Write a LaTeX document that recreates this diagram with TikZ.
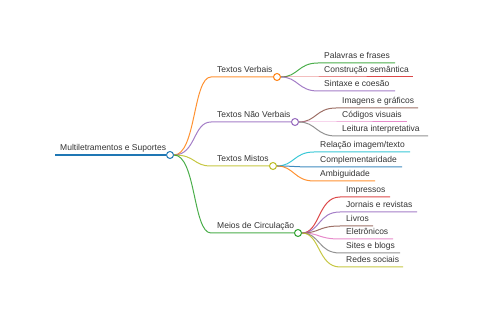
\documentclass[tikz,border=0pt]{standalone}
\usepackage{fontspec}
\setmainfont{Liberation Sans}
\definecolor{cblue}{HTML}{1F77B4}
\definecolor{corange}{HTML}{FF7F0E}
\definecolor{cgreen}{HTML}{2CA02C}
\definecolor{cred}{HTML}{D62728}
\definecolor{cpurple}{HTML}{9467BD}
\definecolor{cbrown}{HTML}{8C564B}
\definecolor{cpink}{HTML}{E377C2}
\definecolor{cgray}{HTML}{7F7F7F}
\definecolor{colive}{HTML}{BCBD22}
\definecolor{ccyan}{HTML}{17BECF}
\definecolor{ctext}{HTML}{333333}
\pgfdeclarelayer{background}
\pgfsetlayers{background,main}
\begin{document}
\begin{tikzpicture}[x=1pt,y=-1pt,
  font=\fontsize{8.5}{10}\selectfont,
  lbl/.style={anchor=base west, inner sep=0pt, text=ctext},
  dot/.style={circle, draw, fill=white, line width=1pt, minimum size=7pt, inner sep=0pt},
  edge/.style={line width=1pt, opacity=0.85}]
\useasboundingbox (0,0) rectangle (480,320);

% root
\node[lbl] (root) at (60,151) {Multiletramentos e Suportes};
\coordinate (rs) at (55,155);
\node[dot,draw=cblue] (rdot) at (170,155) {};

% level 1
\coordinate (tvs) at (211,77);
\node[lbl] (tv) at (217,73) {Textos Verbais};
\node[dot,draw=corange] (tvd) at (277,77) {};

\coordinate (tnvs) at (211,122);
\node[lbl] (tnv) at (217,118) {Textos Não Verbais};
\node[dot,draw=cpurple] (tnvd) at (295,122) {};

\coordinate (tms) at (211,166);
\node[lbl] (tm) at (217,162) {Textos Mistos};
\node[dot,draw=colive] (tmd) at (273,166) {};

\coordinate (mcs) at (211,233);
\node[lbl] (mc) at (217,229) {Meios de Circulação};
\node[dot,draw=cgreen] (mcd) at (298,233) {};

% leaves of Textos Verbais
\coordinate (pfs) at (318,63); \coordinate (pfe) at (395,63);
\node[lbl] (pf) at (324,59) {Palavras e frases};
\coordinate (css) at (318,77); \coordinate (cse) at (413,77);
\node[lbl] (cs) at (324,73) {Construção semântica};
\coordinate (scs) at (318,91); \coordinate (sce) at (395,91);
\node[lbl] (sc) at (324,87) {Sintaxe e coesão};

% leaves of Textos Nao Verbais
\coordinate (igs) at (336,108); \coordinate (ige) at (418,108);
\node[lbl] (ig) at (342,104) {Imagens e gráficos};
\coordinate (cvs) at (336,122); \coordinate (cve) at (407,122);
\node[lbl] (cv) at (342,118) {Códigos visuais};
\coordinate (lis) at (336,136); \coordinate (lie) at (428,136);
\node[lbl] (li) at (342,132) {Leitura interpretativa};

% leaves of Textos Mistos
\coordinate (ris) at (314,152); \coordinate (rie) at (410,152);
\node[lbl] (ri) at (320,148) {Relação imagem/texto};
\coordinate (cps) at (314,167); \coordinate (cpe) at (402,167);
\node[lbl] (cp) at (320,163) {Complementaridade};
\coordinate (ams) at (314,181); \coordinate (ame) at (375,181);
\node[lbl] (am) at (320,177) {Ambiguidade};

% leaves of Meios de Circulacao
\coordinate (ims) at (340,197); \coordinate (ime) at (390,197);
\node[lbl] (im) at (346,193) {Impressos};
\coordinate (jrs) at (340,212); \coordinate (jre) at (417,212);
\node[lbl] (jr) at (346,208) {Jornais e revistas};
\coordinate (lvs) at (340,226); \coordinate (lve) at (373,226);
\node[lbl] (lv) at (346,222) {Livros};
\coordinate (els) at (340,239); \coordinate (ele) at (393,239);
\node[lbl] (el) at (346,235) {Eletrônicos};
\coordinate (sbs) at (340,253); \coordinate (sbe) at (400,253);
\node[lbl] (sb) at (346,249) {Sites e blogs};
\coordinate (rss) at (340,267); \coordinate (rse) at (403,267);
\node[lbl] (rs2) at (346,263) {Redes sociais};

\begin{pgfonlayer}{background}
\draw[cblue, line width=1.3pt] (rs) -- (rdot);
\draw[edge,corange] (rdot) .. controls (196,155) and (193,77) .. (tvs) -- (tvd);
\draw[edge,cpurple] (rdot) .. controls (196,155) and (193,122) .. (tnvs) -- (tnvd);
\draw[edge,colive] (rdot) .. controls (196,155) and (193,166) .. (tms) -- (tmd);
\draw[edge,cgreen] (rdot) .. controls (196,155) and (193,233) .. (mcs) -- (mcd);

\draw[edge,cgreen] (tvd) .. controls (298,77) and (298,63) .. (pfs) -- (pfe);
\draw[edge,cred] (tvd) -- (css) -- (cse);
\draw[edge,cpurple] (tvd) .. controls (298,77) and (298,91) .. (scs) -- (sce);

\draw[edge,cbrown] (tnvd) .. controls (316,122) and (316,108) .. (igs) -- (ige);
\draw[edge,cpink] (tnvd) -- (cvs) -- (cve);
\draw[edge,cgray] (tnvd) .. controls (316,122) and (316,136) .. (lis) -- (lie);

\draw[edge,ccyan] (tmd) .. controls (294,166) and (294,152) .. (ris) -- (rie);
\draw[edge,cblue] (tmd) .. controls (294,166) and (294,167) .. (cps) -- (cpe);
\draw[edge,corange] (tmd) .. controls (294,166) and (294,181) .. (ams) -- (ame);

\draw[edge,cred] (mcd) .. controls (320,233) and (318,197) .. (ims) -- (ime);
\draw[edge,cpurple] (mcd) .. controls (320,233) and (318,212) .. (jrs) -- (jre);
\draw[edge,cbrown] (mcd) .. controls (320,233) and (318,226) .. (lvs) -- (lve);
\draw[edge,cpink] (mcd) .. controls (320,233) and (318,239) .. (els) -- (ele);
\draw[edge,cgray] (mcd) .. controls (320,233) and (318,253) .. (sbs) -- (sbe);
\draw[edge,colive] (mcd) .. controls (320,233) and (318,267) .. (rss) -- (rse);
\end{pgfonlayer}
\end{tikzpicture}
\end{document}
